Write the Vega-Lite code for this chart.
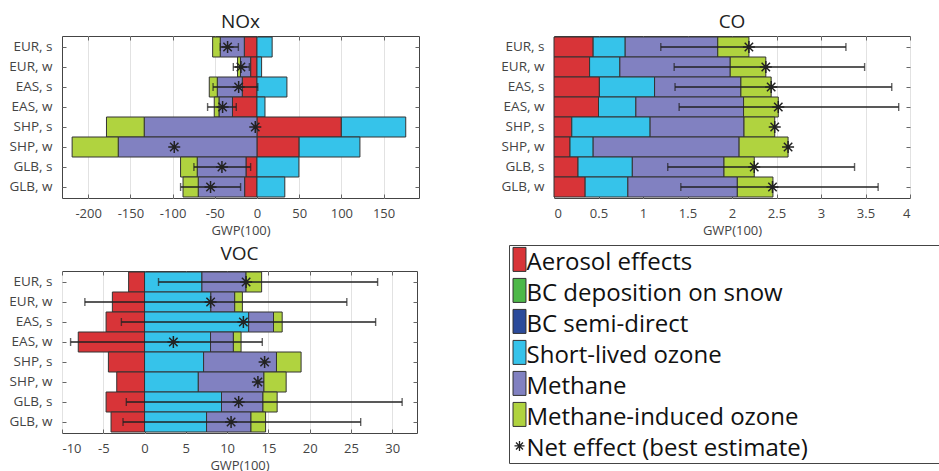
{
  "$schema": "https://vega.github.io/schema/vega-lite/v6.json",
  "padding": {"left": 8, "top": 12, "right": 0, "bottom": 0},
  "background": "white",
  "config": {
    "font": "Open Sans",
    "view": {"stroke": "#444", "strokeWidth": 1},
    "axis": {"labelFont": "Open Sans", "labelColor": "#444", "labelFontSize": 13, "domain": false, "tickColor": "#666", "tickSize": -4, "gridColor": "#e2e2e2", "titleFont": "Open Sans", "titleFontWeight": "normal", "titleFontSize": 13, "titleColor": "#444"},
    "axisY": {"grid": false, "labelFontSize": 13.5, "labelPadding": 14},
    "axisX": {"labelPadding": 13, "titlePadding": 4},
    "title": {"font": "Open Sans", "fontSize": 19, "fontWeight": "normal", "color": "#222", "offset": 4}
  },
  "datasets": {
    "bars": [
      {"gas": "NOx", "row": "EUR, s", "comp": "Aerosol effects", "n": 1, "v": -15},
      {"gas": "NOx", "row": "EUR, s", "comp": "Short-lived ozone", "n": 4, "v": 18},
      {"gas": "NOx", "row": "EUR, s", "comp": "Methane", "n": 5, "v": -28.5},
      {"gas": "NOx", "row": "EUR, s", "comp": "Methane-induced ozone", "n": 6, "v": -9},
      {"gas": "NOx", "row": "EUR, w", "comp": "Aerosol effects", "n": 1, "v": -7.5},
      {"gas": "NOx", "row": "EUR, w", "comp": "Short-lived ozone", "n": 4, "v": 5.5},
      {"gas": "NOx", "row": "EUR, w", "comp": "Methane", "n": 5, "v": -12},
      {"gas": "NOx", "row": "EUR, w", "comp": "Methane-induced ozone", "n": 6, "v": -3.5},
      {"gas": "NOx", "row": "EAS, s", "comp": "Aerosol effects", "n": 1, "v": -17.4},
      {"gas": "NOx", "row": "EAS, s", "comp": "Short-lived ozone", "n": 4, "v": 35.5},
      {"gas": "NOx", "row": "EAS, s", "comp": "Methane", "n": 5, "v": -29.6},
      {"gas": "NOx", "row": "EAS, s", "comp": "Methane-induced ozone", "n": 6, "v": -9.5},
      {"gas": "NOx", "row": "EAS, w", "comp": "Aerosol effects", "n": 1, "v": -29},
      {"gas": "NOx", "row": "EAS, w", "comp": "Short-lived ozone", "n": 4, "v": 9.5},
      {"gas": "NOx", "row": "EAS, w", "comp": "Methane", "n": 5, "v": -16},
      {"gas": "NOx", "row": "EAS, w", "comp": "Methane-induced ozone", "n": 6, "v": -5.6},
      {"gas": "NOx", "row": "SHP, s", "comp": "Aerosol effects", "n": 1, "v": 100},
      {"gas": "NOx", "row": "SHP, s", "comp": "Short-lived ozone", "n": 4, "v": 76.3},
      {"gas": "NOx", "row": "SHP, s", "comp": "Methane", "n": 5, "v": -133.6},
      {"gas": "NOx", "row": "SHP, s", "comp": "Methane-induced ozone", "n": 6, "v": -44.7},
      {"gas": "NOx", "row": "SHP, w", "comp": "Aerosol effects", "n": 1, "v": 50},
      {"gas": "NOx", "row": "SHP, w", "comp": "Short-lived ozone", "n": 4, "v": 72},
      {"gas": "NOx", "row": "SHP, w", "comp": "Methane", "n": 5, "v": -164.4},
      {"gas": "NOx", "row": "SHP, w", "comp": "Methane-induced ozone", "n": 6, "v": -54.6},
      {"gas": "NOx", "row": "GLB, s", "comp": "Aerosol effects", "n": 1, "v": -13},
      {"gas": "NOx", "row": "GLB, s", "comp": "Short-lived ozone", "n": 4, "v": 49.7},
      {"gas": "NOx", "row": "GLB, s", "comp": "Methane", "n": 5, "v": -57.8},
      {"gas": "NOx", "row": "GLB, s", "comp": "Methane-induced ozone", "n": 6, "v": -19.7},
      {"gas": "NOx", "row": "GLB, w", "comp": "Aerosol effects", "n": 1, "v": -14.6},
      {"gas": "NOx", "row": "GLB, w", "comp": "Short-lived ozone", "n": 4, "v": 33},
      {"gas": "NOx", "row": "GLB, w", "comp": "Methane", "n": 5, "v": -55},
      {"gas": "NOx", "row": "GLB, w", "comp": "Methane-induced ozone", "n": 6, "v": -18},
      {"gas": "CO", "row": "EUR, s", "comp": "Aerosol effects", "n": 1, "v": 0.44},
      {"gas": "CO", "row": "EUR, s", "comp": "Short-lived ozone", "n": 4, "v": 0.36},
      {"gas": "CO", "row": "EUR, s", "comp": "Methane", "n": 5, "v": 1.04},
      {"gas": "CO", "row": "EUR, s", "comp": "Methane-induced ozone", "n": 6, "v": 0.35},
      {"gas": "CO", "row": "EUR, w", "comp": "Aerosol effects", "n": 1, "v": 0.40},
      {"gas": "CO", "row": "EUR, w", "comp": "Short-lived ozone", "n": 4, "v": 0.34},
      {"gas": "CO", "row": "EUR, w", "comp": "Methane", "n": 5, "v": 1.24},
      {"gas": "CO", "row": "EUR, w", "comp": "Methane-induced ozone", "n": 6, "v": 0.40},
      {"gas": "CO", "row": "EAS, s", "comp": "Aerosol effects", "n": 1, "v": 0.51},
      {"gas": "CO", "row": "EAS, s", "comp": "Short-lived ozone", "n": 4, "v": 0.62},
      {"gas": "CO", "row": "EAS, s", "comp": "Methane", "n": 5, "v": 0.97},
      {"gas": "CO", "row": "EAS, s", "comp": "Methane-induced ozone", "n": 6, "v": 0.34},
      {"gas": "CO", "row": "EAS, w", "comp": "Aerosol effects", "n": 1, "v": 0.50},
      {"gas": "CO", "row": "EAS, w", "comp": "Short-lived ozone", "n": 4, "v": 0.42},
      {"gas": "CO", "row": "EAS, w", "comp": "Methane", "n": 5, "v": 1.21},
      {"gas": "CO", "row": "EAS, w", "comp": "Methane-induced ozone", "n": 6, "v": 0.39},
      {"gas": "CO", "row": "SHP, s", "comp": "Aerosol effects", "n": 1, "v": 0.20},
      {"gas": "CO", "row": "SHP, s", "comp": "Short-lived ozone", "n": 4, "v": 0.88},
      {"gas": "CO", "row": "SHP, s", "comp": "Methane", "n": 5, "v": 1.055},
      {"gas": "CO", "row": "SHP, s", "comp": "Methane-induced ozone", "n": 6, "v": 0.345},
      {"gas": "CO", "row": "SHP, w", "comp": "Aerosol effects", "n": 1, "v": 0.18},
      {"gas": "CO", "row": "SHP, w", "comp": "Short-lived ozone", "n": 4, "v": 0.26},
      {"gas": "CO", "row": "SHP, w", "comp": "Methane", "n": 5, "v": 1.64},
      {"gas": "CO", "row": "SHP, w", "comp": "Methane-induced ozone", "n": 6, "v": 0.55},
      {"gas": "CO", "row": "GLB, s", "comp": "Aerosol effects", "n": 1, "v": 0.27},
      {"gas": "CO", "row": "GLB, s", "comp": "Short-lived ozone", "n": 4, "v": 0.61},
      {"gas": "CO", "row": "GLB, s", "comp": "Methane", "n": 5, "v": 1.03},
      {"gas": "CO", "row": "GLB, s", "comp": "Methane-induced ozone", "n": 6, "v": 0.34},
      {"gas": "CO", "row": "GLB, w", "comp": "Aerosol effects", "n": 1, "v": 0.35},
      {"gas": "CO", "row": "GLB, w", "comp": "Short-lived ozone", "n": 4, "v": 0.48},
      {"gas": "CO", "row": "GLB, w", "comp": "Methane", "n": 5, "v": 1.23},
      {"gas": "CO", "row": "GLB, w", "comp": "Methane-induced ozone", "n": 6, "v": 0.40},
      {"gas": "VOC", "row": "EUR, s", "comp": "Aerosol effects", "n": 1, "v": -1.93},
      {"gas": "VOC", "row": "EUR, s", "comp": "Short-lived ozone", "n": 4, "v": 6.95},
      {"gas": "VOC", "row": "EUR, s", "comp": "Methane", "n": 5, "v": 5.34},
      {"gas": "VOC", "row": "EUR, s", "comp": "Methane-induced ozone", "n": 6, "v": 1.89},
      {"gas": "VOC", "row": "EUR, w", "comp": "Aerosol effects", "n": 1, "v": -3.9},
      {"gas": "VOC", "row": "EUR, w", "comp": "Short-lived ozone", "n": 4, "v": 8.03},
      {"gas": "VOC", "row": "EUR, w", "comp": "Methane", "n": 5, "v": 2.89},
      {"gas": "VOC", "row": "EUR, w", "comp": "Methane-induced ozone", "n": 6, "v": 0.93},
      {"gas": "VOC", "row": "EAS, s", "comp": "Aerosol effects", "n": 1, "v": -4.66},
      {"gas": "VOC", "row": "EAS, s", "comp": "Short-lived ozone", "n": 4, "v": 12.61},
      {"gas": "VOC", "row": "EAS, s", "comp": "Methane", "n": 5, "v": 3.01},
      {"gas": "VOC", "row": "EAS, s", "comp": "Methane-induced ozone", "n": 6, "v": 1.05},
      {"gas": "VOC", "row": "EAS, w", "comp": "Aerosol effects", "n": 1, "v": -8.03},
      {"gas": "VOC", "row": "EAS, w", "comp": "Short-lived ozone", "n": 4, "v": 7.99},
      {"gas": "VOC", "row": "EAS, w", "comp": "Methane", "n": 5, "v": 2.77},
      {"gas": "VOC", "row": "EAS, w", "comp": "Methane-induced ozone", "n": 6, "v": 0.93},
      {"gas": "VOC", "row": "SHP, s", "comp": "Aerosol effects", "n": 1, "v": -4.38},
      {"gas": "VOC", "row": "SHP, s", "comp": "Short-lived ozone", "n": 4, "v": 7.15},
      {"gas": "VOC", "row": "SHP, s", "comp": "Methane", "n": 5, "v": 8.83},
      {"gas": "VOC", "row": "SHP, s", "comp": "Methane-induced ozone", "n": 6, "v": 2.98},
      {"gas": "VOC", "row": "SHP, w", "comp": "Aerosol effects", "n": 1, "v": -3.37},
      {"gas": "VOC", "row": "SHP, w", "comp": "Short-lived ozone", "n": 4, "v": 6.51},
      {"gas": "VOC", "row": "SHP, w", "comp": "Methane", "n": 5, "v": 7.95},
      {"gas": "VOC", "row": "SHP, w", "comp": "Methane-induced ozone", "n": 6, "v": 2.69},
      {"gas": "VOC", "row": "GLB, s", "comp": "Aerosol effects", "n": 1, "v": -4.66},
      {"gas": "VOC", "row": "GLB, s", "comp": "Short-lived ozone", "n": 4, "v": 9.32},
      {"gas": "VOC", "row": "GLB, s", "comp": "Methane", "n": 5, "v": 5.02},
      {"gas": "VOC", "row": "GLB, s", "comp": "Methane-induced ozone", "n": 6, "v": 1.72},
      {"gas": "VOC", "row": "GLB, w", "comp": "Aerosol effects", "n": 1, "v": -4.06},
      {"gas": "VOC", "row": "GLB, w", "comp": "Short-lived ozone", "n": 4, "v": 7.51},
      {"gas": "VOC", "row": "GLB, w", "comp": "Methane", "n": 5, "v": 5.38},
      {"gas": "VOC", "row": "GLB, w", "comp": "Methane-induced ozone", "n": 6, "v": 1.77}
    ],
    "net": [
      {"gas": "NOx", "row": "EUR, s", "net": -34.8, "lo": -43.5, "hi": -22},
      {"gas": "NOx", "row": "EUR, w", "net": -19, "lo": -28, "hi": -9},
      {"gas": "NOx", "row": "EAS, s", "net": -21.7, "lo": -52, "hi": 1},
      {"gas": "NOx", "row": "EAS, w", "net": -40.7, "lo": -58.5, "hi": -24.5},
      {"gas": "NOx", "row": "SHP, s", "net": -2, "lo": null, "hi": null},
      {"gas": "NOx", "row": "SHP, w", "net": -98, "lo": null, "hi": null},
      {"gas": "NOx", "row": "GLB, s", "net": -41.5, "lo": -74.7, "hi": -7.5},
      {"gas": "NOx", "row": "GLB, w", "net": -55, "lo": -90.5, "hi": -19.4},
      {"gas": "CO", "row": "EUR, s", "net": 2.19, "lo": 1.20, "hi": 3.28},
      {"gas": "CO", "row": "EUR, w", "net": 2.38, "lo": 1.35, "hi": 3.49},
      {"gas": "CO", "row": "EAS, s", "net": 2.44, "lo": 1.36, "hi": 3.795},
      {"gas": "CO", "row": "EAS, w", "net": 2.52, "lo": 1.406, "hi": 3.873},
      {"gas": "CO", "row": "SHP, s", "net": 2.48, "lo": null, "hi": null},
      {"gas": "CO", "row": "SHP, w", "net": 2.63, "lo": null, "hi": null},
      {"gas": "CO", "row": "GLB, s", "net": 2.25, "lo": 1.278, "hi": 3.377},
      {"gas": "CO", "row": "GLB, w", "net": 2.455, "lo": 1.425, "hi": 3.642},
      {"gas": "VOC", "row": "EUR, s", "net": 12.3, "lo": 1.69, "hi": 28.23},
      {"gas": "VOC", "row": "EUR, w", "net": 8.0, "lo": -7.23, "hi": 24.5},
      {"gas": "VOC", "row": "EAS, s", "net": 11.97, "lo": -2.81, "hi": 27.99},
      {"gas": "VOC", "row": "EAS, w", "net": 3.49, "lo": -8.96, "hi": 14.26},
      {"gas": "VOC", "row": "SHP, s", "net": 14.54, "lo": null, "hi": null},
      {"gas": "VOC", "row": "SHP, w", "net": 13.73, "lo": null, "hi": null},
      {"gas": "VOC", "row": "GLB, s", "net": 11.4, "lo": -2.21, "hi": 31.2},
      {"gas": "VOC", "row": "GLB, w", "net": 10.48, "lo": -2.61, "hi": 26.18}
    ],
    "legend": [
      {"label": "Aerosol effects", "comp": "Aerosol effects"},
      {"label": "BC deposition on snow", "comp": "BC deposition on snow"},
      {"label": "BC semi-direct", "comp": "BC semi-direct"},
      {"label": "Short-lived ozone", "comp": "Short-lived ozone"},
      {"label": "Methane", "comp": "Methane"},
      {"label": "Methane-induced ozone", "comp": "Methane-induced ozone"},
      {"label": "Net effect (best estimate)", "comp": null}
    ]
  },
  "concat": [
    {
      "width": 357, "height": 162,
      "title": "NOx",
      "resolve": {"axis": {"x": "independent", "y": "independent"}},
      "layer": [
        {"data": {"name": "bars"}, "transform": [{"filter": "datum.gas === 'NOx'"}],
         "mark": {"type": "bar", "stroke": "#333", "strokeWidth": 1},
         "encoding": {
           "y": {"field": "row", "type": "nominal", "title": null, "scale": {"domain": ["EUR, s","EUR, w","EAS, s","EAS, w","SHP, s","SHP, w","GLB, s","GLB, w"], "paddingInner": 0, "paddingOuter": 0.05}},
           "x": {"field": "v", "type": "quantitative", "stack": "zero", "title": "GWP(100)", "scale": {"domain": [-231, 192], "nice": false, "zero": false}, "axis": {"values": [-200,-150,-100,-50,0,50,100,150], "labelExpr": "'' + datum.value"}},
           "color": {"field": "comp", "type": "nominal", "legend": null, "scale": {"domain": ["Aerosol effects","BC deposition on snow","BC semi-direct","Short-lived ozone","Methane","Methane-induced ozone"], "range": ["#d83438","#4db848","#2b4b9b","#36c3ea","#8181c1","#b0d33f"]}},
           "order": {"field": "n", "type": "quantitative"}
         }},
        {"data": {"name": "net"}, "transform": [{"filter": "datum.gas === 'NOx'"}],
         "mark": {"type": "rule", "color": "#222", "strokeWidth": 1.4},
         "encoding": {"y": {"field": "row", "type": "nominal", "axis": null}, "x": {"field": "lo", "type": "quantitative", "axis": null}, "x2": {"field": "hi"}}},
        {"data": {"name": "net"}, "transform": [{"filter": "datum.gas === 'NOx'"}],
         "mark": {"type": "tick", "color": "#222", "thickness": 1.4, "size": 8},
         "encoding": {"y": {"field": "row", "type": "nominal", "axis": null}, "x": {"field": "lo", "type": "quantitative", "axis": null}}},
        {"data": {"name": "net"}, "transform": [{"filter": "datum.gas === 'NOx'"}],
         "mark": {"type": "tick", "color": "#222", "thickness": 1.4, "size": 8},
         "encoding": {"y": {"field": "row", "type": "nominal", "axis": null}, "x": {"field": "hi", "type": "quantitative", "axis": null}}},
        {"data": {"name": "net"}, "transform": [{"filter": "datum.gas === 'NOx'"}],
         "mark": {"type": "point", "shape": "M-1,0L1,0M0,-1L0,1M-0.7,-0.7L0.7,0.7M-0.7,0.7L0.7,-0.7", "filled": false, "stroke": "#222", "strokeWidth": 1.5, "size": 144, "opacity": 1},
         "encoding": {"y": {"field": "row", "type": "nominal", "axis": {"orient": "right", "labels": false, "title": null}}, "x": {"field": "net", "type": "quantitative", "axis": {"orient": "top", "labels": false, "title": null, "grid": false, "values": [-200,-150,-100,-50,0,50,100,150]}}}}
      ]
    },
    {
      "width": 356, "height": 162,
      "title": "CO",
      "resolve": {"axis": {"x": "independent", "y": "independent"}},
      "layer": [
        {"data": {"name": "bars"}, "transform": [{"filter": "datum.gas === 'CO'"}],
         "mark": {"type": "bar", "stroke": "#333", "strokeWidth": 1},
         "encoding": {
           "y": {"field": "row", "type": "nominal", "title": null, "scale": {"domain": ["EUR, s","EUR, w","EAS, s","EAS, w","SHP, s","SHP, w","GLB, s","GLB, w"], "paddingInner": 0, "paddingOuter": 0.05}},
           "x": {"field": "v", "type": "quantitative", "stack": "zero", "title": "GWP(100)", "scale": {"domain": [0, 4], "nice": false}, "axis": {"values": [0,0.5,1,1.5,2,2.5,3,3.5,4], "labelExpr": "'' + datum.value"}},
           "color": {"field": "comp", "type": "nominal", "legend": null},
           "order": {"field": "n", "type": "quantitative"}
         }},
        {"data": {"name": "net"}, "transform": [{"filter": "datum.gas === 'CO'"}],
         "mark": {"type": "rule", "color": "#222", "strokeWidth": 1.4},
         "encoding": {"y": {"field": "row", "type": "nominal", "axis": null}, "x": {"field": "lo", "type": "quantitative", "axis": null}, "x2": {"field": "hi"}}},
        {"data": {"name": "net"}, "transform": [{"filter": "datum.gas === 'CO'"}],
         "mark": {"type": "tick", "color": "#222", "thickness": 1.4, "size": 8},
         "encoding": {"y": {"field": "row", "type": "nominal", "axis": null}, "x": {"field": "lo", "type": "quantitative", "axis": null}}},
        {"data": {"name": "net"}, "transform": [{"filter": "datum.gas === 'CO'"}],
         "mark": {"type": "tick", "color": "#222", "thickness": 1.4, "size": 8},
         "encoding": {"y": {"field": "row", "type": "nominal", "axis": null}, "x": {"field": "hi", "type": "quantitative", "axis": null}}},
        {"data": {"name": "net"}, "transform": [{"filter": "datum.gas === 'CO'"}],
         "mark": {"type": "point", "shape": "M-1,0L1,0M0,-1L0,1M-0.7,-0.7L0.7,0.7M-0.7,0.7L0.7,-0.7", "filled": false, "stroke": "#222", "strokeWidth": 1.5, "size": 144, "opacity": 1},
         "encoding": {"y": {"field": "row", "type": "nominal", "axis": {"orient": "right", "labels": false, "title": null}}, "x": {"field": "net", "type": "quantitative", "axis": {"orient": "top", "labels": false, "title": null, "grid": false, "values": [0,0.5,1,1.5,2,2.5,3,3.5,4]}}}}
      ]
    },
    {
      "width": 355, "height": 162,
      "title": {"text": "VOC", "offset": 7},
      "resolve": {"axis": {"x": "independent", "y": "independent"}},
      "layer": [
        {"data": {"name": "bars"}, "transform": [{"filter": "datum.gas === 'VOC'"}],
         "mark": {"type": "bar", "stroke": "#333", "strokeWidth": 1},
         "encoding": {
           "y": {"field": "row", "type": "nominal", "title": null, "scale": {"domain": ["EUR, s","EUR, w","EAS, s","EAS, w","SHP, s","SHP, w","GLB, s","GLB, w"], "paddingInner": 0, "paddingOuter": 0.05}},
           "x": {"field": "v", "type": "quantitative", "stack": "zero", "title": "GWP(100)", "scale": {"domain": [-10, 33], "nice": false, "zero": false}, "axis": {"values": [-10,-5,0,5,10,15,20,25,30], "labelExpr": "'' + datum.value"}},
           "color": {"field": "comp", "type": "nominal", "legend": null},
           "order": {"field": "n", "type": "quantitative"}
         }},
        {"data": {"name": "net"}, "transform": [{"filter": "datum.gas === 'VOC'"}],
         "mark": {"type": "rule", "color": "#222", "strokeWidth": 1.4},
         "encoding": {"y": {"field": "row", "type": "nominal", "axis": null}, "x": {"field": "lo", "type": "quantitative", "axis": null}, "x2": {"field": "hi"}}},
        {"data": {"name": "net"}, "transform": [{"filter": "datum.gas === 'VOC'"}],
         "mark": {"type": "tick", "color": "#222", "thickness": 1.4, "size": 8},
         "encoding": {"y": {"field": "row", "type": "nominal", "axis": null}, "x": {"field": "lo", "type": "quantitative", "axis": null}}},
        {"data": {"name": "net"}, "transform": [{"filter": "datum.gas === 'VOC'"}],
         "mark": {"type": "tick", "color": "#222", "thickness": 1.4, "size": 8},
         "encoding": {"y": {"field": "row", "type": "nominal", "axis": null}, "x": {"field": "hi", "type": "quantitative", "axis": null}}},
        {"data": {"name": "net"}, "transform": [{"filter": "datum.gas === 'VOC'"}],
         "mark": {"type": "point", "shape": "M-1,0L1,0M0,-1L0,1M-0.7,-0.7L0.7,0.7M-0.7,0.7L0.7,-0.7", "filled": false, "stroke": "#222", "strokeWidth": 1.5, "size": 144, "opacity": 1},
         "encoding": {"y": {"field": "row", "type": "nominal", "axis": {"orient": "right", "labels": false, "title": null}}, "x": {"field": "net", "type": "quantitative", "axis": {"orient": "top", "labels": false, "title": null, "grid": false, "values": [-10,-5,0,5,10,15,20,25,30]}}}}
      ]
    },
    {
      "width": 430, "height": 218,
      "data": {"name": "legend"},
      "layer": [
        {"transform": [{"filter": "datum.comp != null"}],
         "mark": {"type": "point", "shape": "M-0.54,-1L0.54,-1L0.54,1L-0.54,1Z", "filled": true, "size": 576, "stroke": "#333", "strokeWidth": 1, "opacity": 1, "yOffset": -3.5},
         "encoding": {
           "y": {"field": "label", "type": "nominal", "axis": {"labels": false, "ticks": true, "tickSize": 8, "tickOpacity": 0, "domain": false, "grid": false, "title": null}, "scale": {"type": "point", "domain": ["Aerosol effects","BC deposition on snow","BC semi-direct","Short-lived ozone","Methane","Methane-induced ozone","Net effect (best estimate)"], "padding": 0.516, "align": 0.56}},
           "x": {"value": 10.5},
           "color": {"field": "comp", "type": "nominal", "legend": null}
         }},
        {"transform": [{"filter": "datum.comp == null"}],
         "mark": {"type": "point", "shape": "M-1,0L1,0M0,-1L0,1M-0.7,-0.7L0.7,0.7M-0.7,0.7L0.7,-0.7", "filled": false, "stroke": "#222", "strokeWidth": 1.3, "size": 100, "opacity": 1, "yOffset": -3},
         "encoding": {"y": {"field": "label", "type": "nominal"}, "x": {"value": 10.5}}},
        {"mark": {"type": "text", "align": "left", "baseline": "middle", "fontSize": 24, "font": "Open Sans", "color": "#111"},
         "encoding": {"y": {"field": "label", "type": "nominal"}, "x": {"value": 17.5}, "text": {"field": "label"}}}
      ]
    }
  ],
  "columns": 2,
  "align": "none",
  "spacing": {"row": 6, "column": 80}
}
